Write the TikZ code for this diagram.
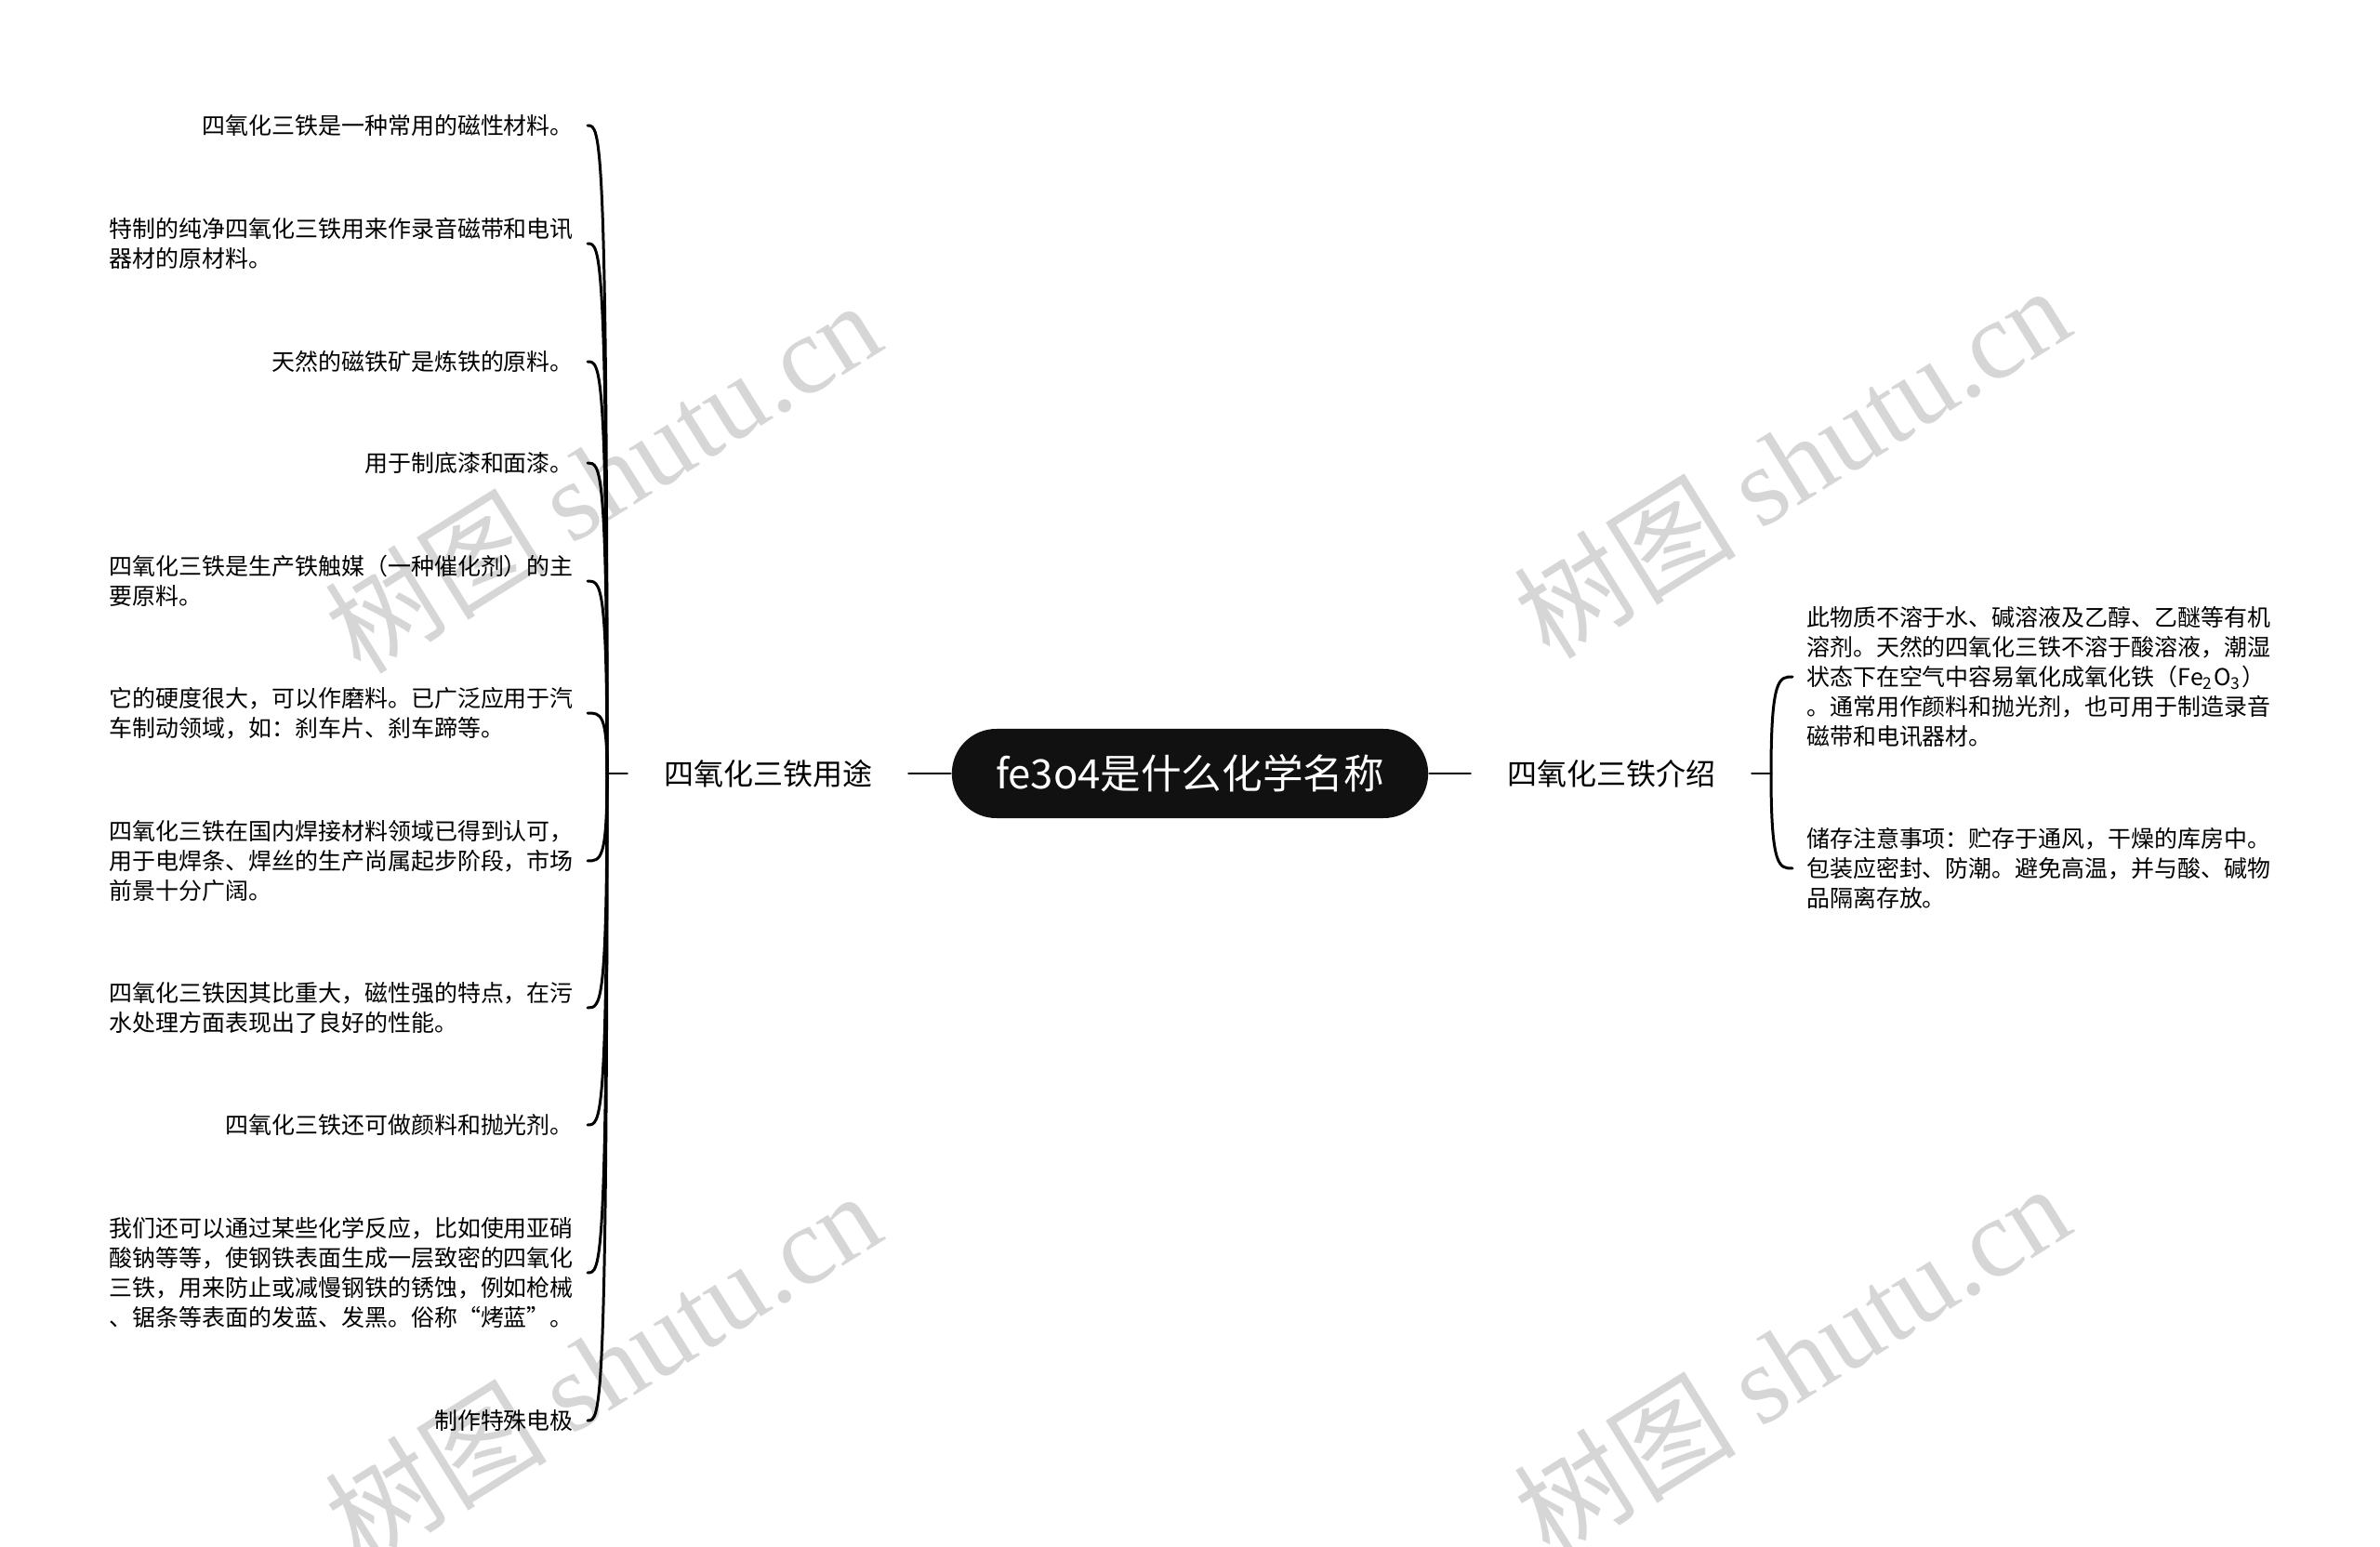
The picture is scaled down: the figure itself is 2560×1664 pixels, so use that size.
\documentclass[tikz,border=0pt]{standalone}
\usepackage{fontspec}
\setmainfont{Noto Sans CJK SC}
\newfontfamily\wmlatin{Liberation Serif}
\usetikzlibrary{positioning}
\definecolor{hubblack}{HTML}{111111}
\definecolor{wmgray}{HTML}{D6D6D6}

\begin{document}
\begin{tikzpicture}[x=0.01cm,y=-0.01cm,line width=0.85pt,line cap=round,
  main node/.style={rounded corners=13.6pt,fill=hubblack,text=white,
    minimum width=145.7pt,minimum height=27.3pt,font=\fontsize{12.4}{15}\selectfont},
  branch node/.style={inner xsep=10.8pt,inner ysep=0pt,font=\fontsize{9.1}{11}\selectfont},
  leaf node/.style={inner sep=0pt,outer xsep=4.3pt,align=left,
    font=\fontsize{7.1}{9.05}\selectfont},
  wm node/.style={text=wmgray,rotate=32,font=\fontsize{34}{36}\selectfont}]

  \useasboundingbox (0,0) rectangle (2560,1664);

  % watermarks
  \node[wm node] (w1) at (648,512) {树图 {\wmlatin shutu.cn}};
  \node[wm node] (w2) at (1927,496) {树图 {\wmlatin shutu.cn}};
  \node[wm node] (w3) at (648,1470) {树图 {\wmlatin shutu.cn}};
  \node[wm node] (w4) at (1927,1462) {树图 {\wmlatin shutu.cn}};

  \node[main node] (hub) at (1280,832) {fe3o4是什么化学名称};
  \node[branch node] (uses) at (826,832) {四氧化三铁用途};
  \node[branch node] (intro) at (1733,832) {四氧化三铁介绍};
  \coordinate (lroot) at (653,832);
  \coordinate (rroot) at (1905,832);

  % uses
  \node[leaf node,anchor=east] (u1) at (632,135) {四氧化三铁是一种常用的磁性材料。};
  \node[leaf node,anchor=east] (u2) at (632,262) {特制的纯净四氧化三铁用来作录音磁带和电讯\\器材的原材料。};
  \node[leaf node,anchor=east] (u3) at (632,389) {天然的磁铁矿是炼铁的原料。};
  \node[leaf node,anchor=east] (u4) at (632,498) {用于制底漆和面漆。};
  \node[leaf node,anchor=east] (u5) at (632,625) {四氧化三铁是生产铁触媒（一种催化剂）的主\\要原料。};
  \node[leaf node,anchor=east] (u6) at (632,767) {它的硬度很大，可以作磨料。已广泛应用于汽\\车制动领域，如：刹车片、刹车蹄等。};
  \node[leaf node,anchor=east] (u7) at (632,926) {四氧化三铁在国内焊接材料领域已得到认可，\\用于电焊条、焊丝的生产尚属起步阶段，市场\\前景十分广阔。};
  \node[leaf node,anchor=east] (u8) at (632,1084) {四氧化三铁因其比重大，磁性强的特点，在污\\水处理方面表现出了良好的性能。};
  \node[leaf node,anchor=east] (u9) at (632,1210) {四氧化三铁还可做颜料和抛光剂。};
  \node[leaf node,anchor=east] (u10) at (632,1369) {我们还可以通过某些化学反应，比如使用亚硝\\酸钠等等，使钢铁表面生成一层致密的四氧化\\三铁，用来防止或减慢钢铁的锈蚀，例如枪械\\、锯条等表面的发蓝、发黑。俗称“烤蓝”。};
  \node[leaf node,anchor=east] (u11) at (632,1528) {制作特殊电极};

  % intro
  \node[leaf node,anchor=west] (v1) at (1928,728) {此物质不溶于水、碱溶液及乙醇、乙醚等有机\\溶剂。天然的四氧化三铁不溶于酸溶液，潮湿\\状态下在空气中容易氧化成氧化铁（Fe\textsubscript{2}O\textsubscript{3}）\\。通常用作颜料和抛光剂，也可用于制造录音\\磁带和电讯器材。};
  \node[leaf node,anchor=west] (v2) at (1928,934) {储存注意事项：贮存于通风，干燥的库房中。\\包装应密封、防潮。避免高温，并与酸、碱物\\品隔离存放。};

  \draw (hub) -- (uses);
  \draw (uses) -- (lroot);
  \draw (hub) -- (intro);
  \draw (intro) -- (rroot);

  \foreach \n in {1,...,11}
    \draw (lroot) .. controls (lroot |- u\n.east) and ([xshift=4pt]u\n.east) .. (u\n.east);
  \foreach \n in {1,2}
    \draw (rroot) .. controls (rroot |- v\n.west) and ([xshift=-4pt]v\n.west) .. (v\n.west);
\end{tikzpicture}
\end{document}
